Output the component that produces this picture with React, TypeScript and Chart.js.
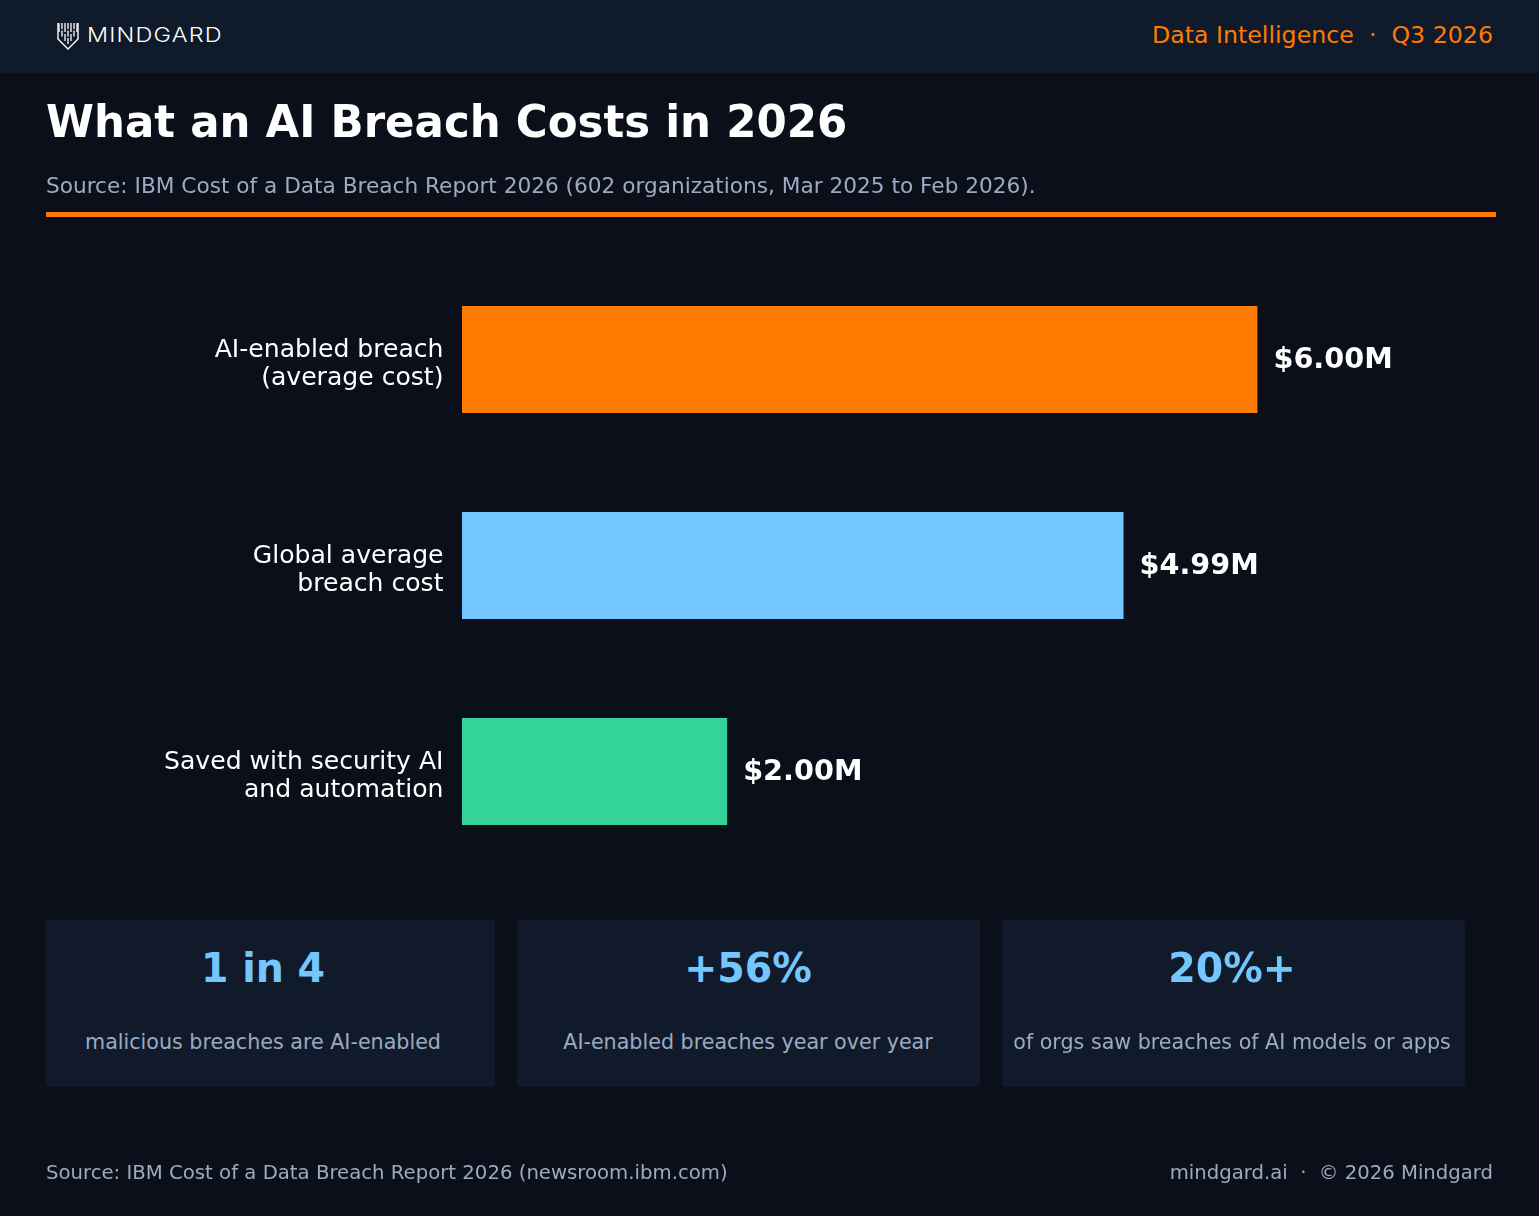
import React, { useEffect, useRef } from "react";
import { Chart, registerables } from "chart.js";

Chart.register(...registerables);

const categories = [
  ["AI-enabled breach", "(average cost)"],
  ["Global average", "breach cost"],
  ["Saved with security AI", "and automation"],
];
const values = [6.0, 4.99, 2.0];
const valueLabels = ["$6.00M", "$4.99M", "$2.00M"];
const barColors = ["#ff7a00", "#74c6ff", "#34d399"];

const statValues = ["1 in 4", "+56%", "20%+"];
const statTexts = [
  "malicious breaches are AI-enabled",
  "AI-enabled breaches year over year",
  "of orgs saw breaches of AI models or apps",
];
const cardBoxes = [
  { left: 46, width: 449, center: 263 },
  { left: 517, width: 463, center: 748 },
  { left: 1002, width: 463, center: 1232 },
];

const FONT = '"DejaVu Sans", sans-serif';
const GREY = "#9aabc2";
const ORANGE = "#ff7a00";
const BLUE = "#74c6ff";

const valueLabelPlugin = {
  id: "valueLabels",
  afterDatasetsDraw(chart: any) {
    const { ctx } = chart;
    const meta = chart.getDatasetMeta(0);
    ctx.save();
    ctx.font = `bold 28.7px ${FONT}`;
    ctx.fillStyle = "#ffffff";
    ctx.textAlign = "left";
    ctx.textBaseline = "middle";
    meta.data.forEach((bar: any, i: number) => {
      ctx.fillText(valueLabels[i], bar.x + 16, bar.y + 0.6);
    });
    ctx.restore();
  },
};

function Text(props: {
  children: React.ReactNode;
  x: number;
  y: number;
  size: number;
  color: string;
  bold?: boolean;
  squeeze?: number;
  align?: "left" | "right" | "center";
}) {
  const { children, x, y, size, color, bold, squeeze = 1, align = "left" } = props;
  const shift = align === "center" ? "-50%" : align === "right" ? "-100%" : "0";
  const origin = align === "center" ? "center" : align === "right" ? "right" : "left";
  return (
    <div
      style={{
        position: "absolute",
        left: x,
        top: y,
        transform: `translate(${shift},-50%) scaleX(${squeeze})`,
        transformOrigin: `${origin} center`,
        fontFamily: FONT,
        fontSize: size,
        fontWeight: bold ? 700 : 400,
        color,
        whiteSpace: "nowrap",
        lineHeight: 1.2,
      }}
    >
      {children}
    </div>
  );
}

function Logo() {
  const xs = [2, 5, 8, 11, 14, 17, 20];
  const bottoms = [15, 19, 22, 25, 22, 19, 15];
  return (
    <svg width="22" height="28" viewBox="0 0 22 28" style={{ position: "absolute", left: 56.5, top: 22 }}>
      <path d="M1 1 V17 L11 27 L21 17 V1" fill="none" stroke="#ffffff" strokeWidth="1.4" />
      {xs.map((x, i) => (
        <line key={i} x1={x} x2={x} y1={1} y2={bottoms[i] - 3} stroke="#ffffff" strokeWidth="1.3" strokeDasharray={i % 2 ? "6 1.5" : "9 2"} />
      ))}
    </svg>
  );
}

export default function App() {
  const ref = useRef<HTMLCanvasElement | null>(null);
  useEffect(() => {
    const chart = new Chart(ref.current as HTMLCanvasElement, {
      type: "bar",
      data: {
        labels: categories,
        datasets: [
          {
            data: values,
            backgroundColor: barColors,
            borderWidth: 0,
            barPercentage: 107 / 206,
            categoryPercentage: 1,
          },
        ],
      },
      options: {
        indexAxis: "y",
        responsive: false,
        animation: false,
        layout: { padding: { top: 256.5, bottom: 341.5, left: 0, right: 149 } },
        plugins: { legend: { display: false }, tooltip: { enabled: false } },
        scales: {
          x: { min: 0, max: 7, display: false },
          y: {
            afterFit(scale: any) {
              scale.width = 462;
            },
            grid: { display: false, drawTicks: false },
            border: { display: false },
            ticks: {
              color: "#ffffff",
              padding: 18.5,
              labelOffset: 5,
              font: { family: FONT, size: 25.1, lineHeight: 1.12 },
            },
          },
        },
      },
      plugins: [valueLabelPlugin],
    } as any);
    return () => chart.destroy();
  }, []);

  return (
    <div style={{ position: "absolute", left: 0, top: 0, width: 1539, height: 1216, background: "#0a0f1a", overflow: "hidden" }}>
      <canvas ref={ref} width={1539} height={1216} style={{ position: "absolute", left: 0, top: 0, width: 1539, height: 1216 }} />
      <div style={{ position: "absolute", left: 0, top: 0, width: 1539, height: 73, background: "#0f1a2b" }} />
      <Logo />
      <div
        style={{
          position: "absolute",
          left: 87,
          top: 35.5,
          transform: "translateY(-50%) scaleX(1.2)",
          transformOrigin: "left center",
          fontFamily: "Inter, sans-serif",
          fontWeight: 300,
          fontSize: 19.5,
          letterSpacing: 1,
          color: "#ffffff",
          lineHeight: 1.2,
        }}
      >
        MINDGARD
      </div>
      <Text x={1493} y={34.5} size={23.7} color={ORANGE} align="right">
        Data Intelligence&nbsp; ·&nbsp; Q3 2026
      </Text>
      <Text x={46} y={121.5} size={44} squeeze={0.988} color="#ffffff" bold>
        What an AI Breach Costs in 2026
      </Text>
      <Text x={46} y={185.8} size={21.65} color={GREY}>
        Source: IBM Cost of a Data Breach Report 2026 (602 organizations, Mar 2025 to Feb 2026).
      </Text>
      <div style={{ position: "absolute", left: 46, top: 212, width: 1450, height: 5, background: ORANGE }} />
      {cardBoxes.map((c, i) => (
        <React.Fragment key={i}>
          <div style={{ position: "absolute", left: c.left, top: 920, width: c.width, height: 167, background: "#111a2b", borderRadius: 3 }} />
          <Text x={c.center} y={967.7} size={40.5} squeeze={0.975} color={BLUE} bold align="center">
            {statValues[i]}
          </Text>
          <Text x={c.center} y={1042} size={20.65} color={GREY} align="center">
            {statTexts[i]}
          </Text>
        </React.Fragment>
      ))}
      <Text x={46} y={1172.5} size={19.7} color={GREY}>
        Source: IBM Cost of a Data Breach Report 2026 (newsroom.ibm.com)
      </Text>
      <Text x={1493} y={1172.5} size={19.65} color={GREY} align="right">
        mindgard.ai&nbsp; ·&nbsp; © 2026 Mindgard
      </Text>
    </div>
  );
}
